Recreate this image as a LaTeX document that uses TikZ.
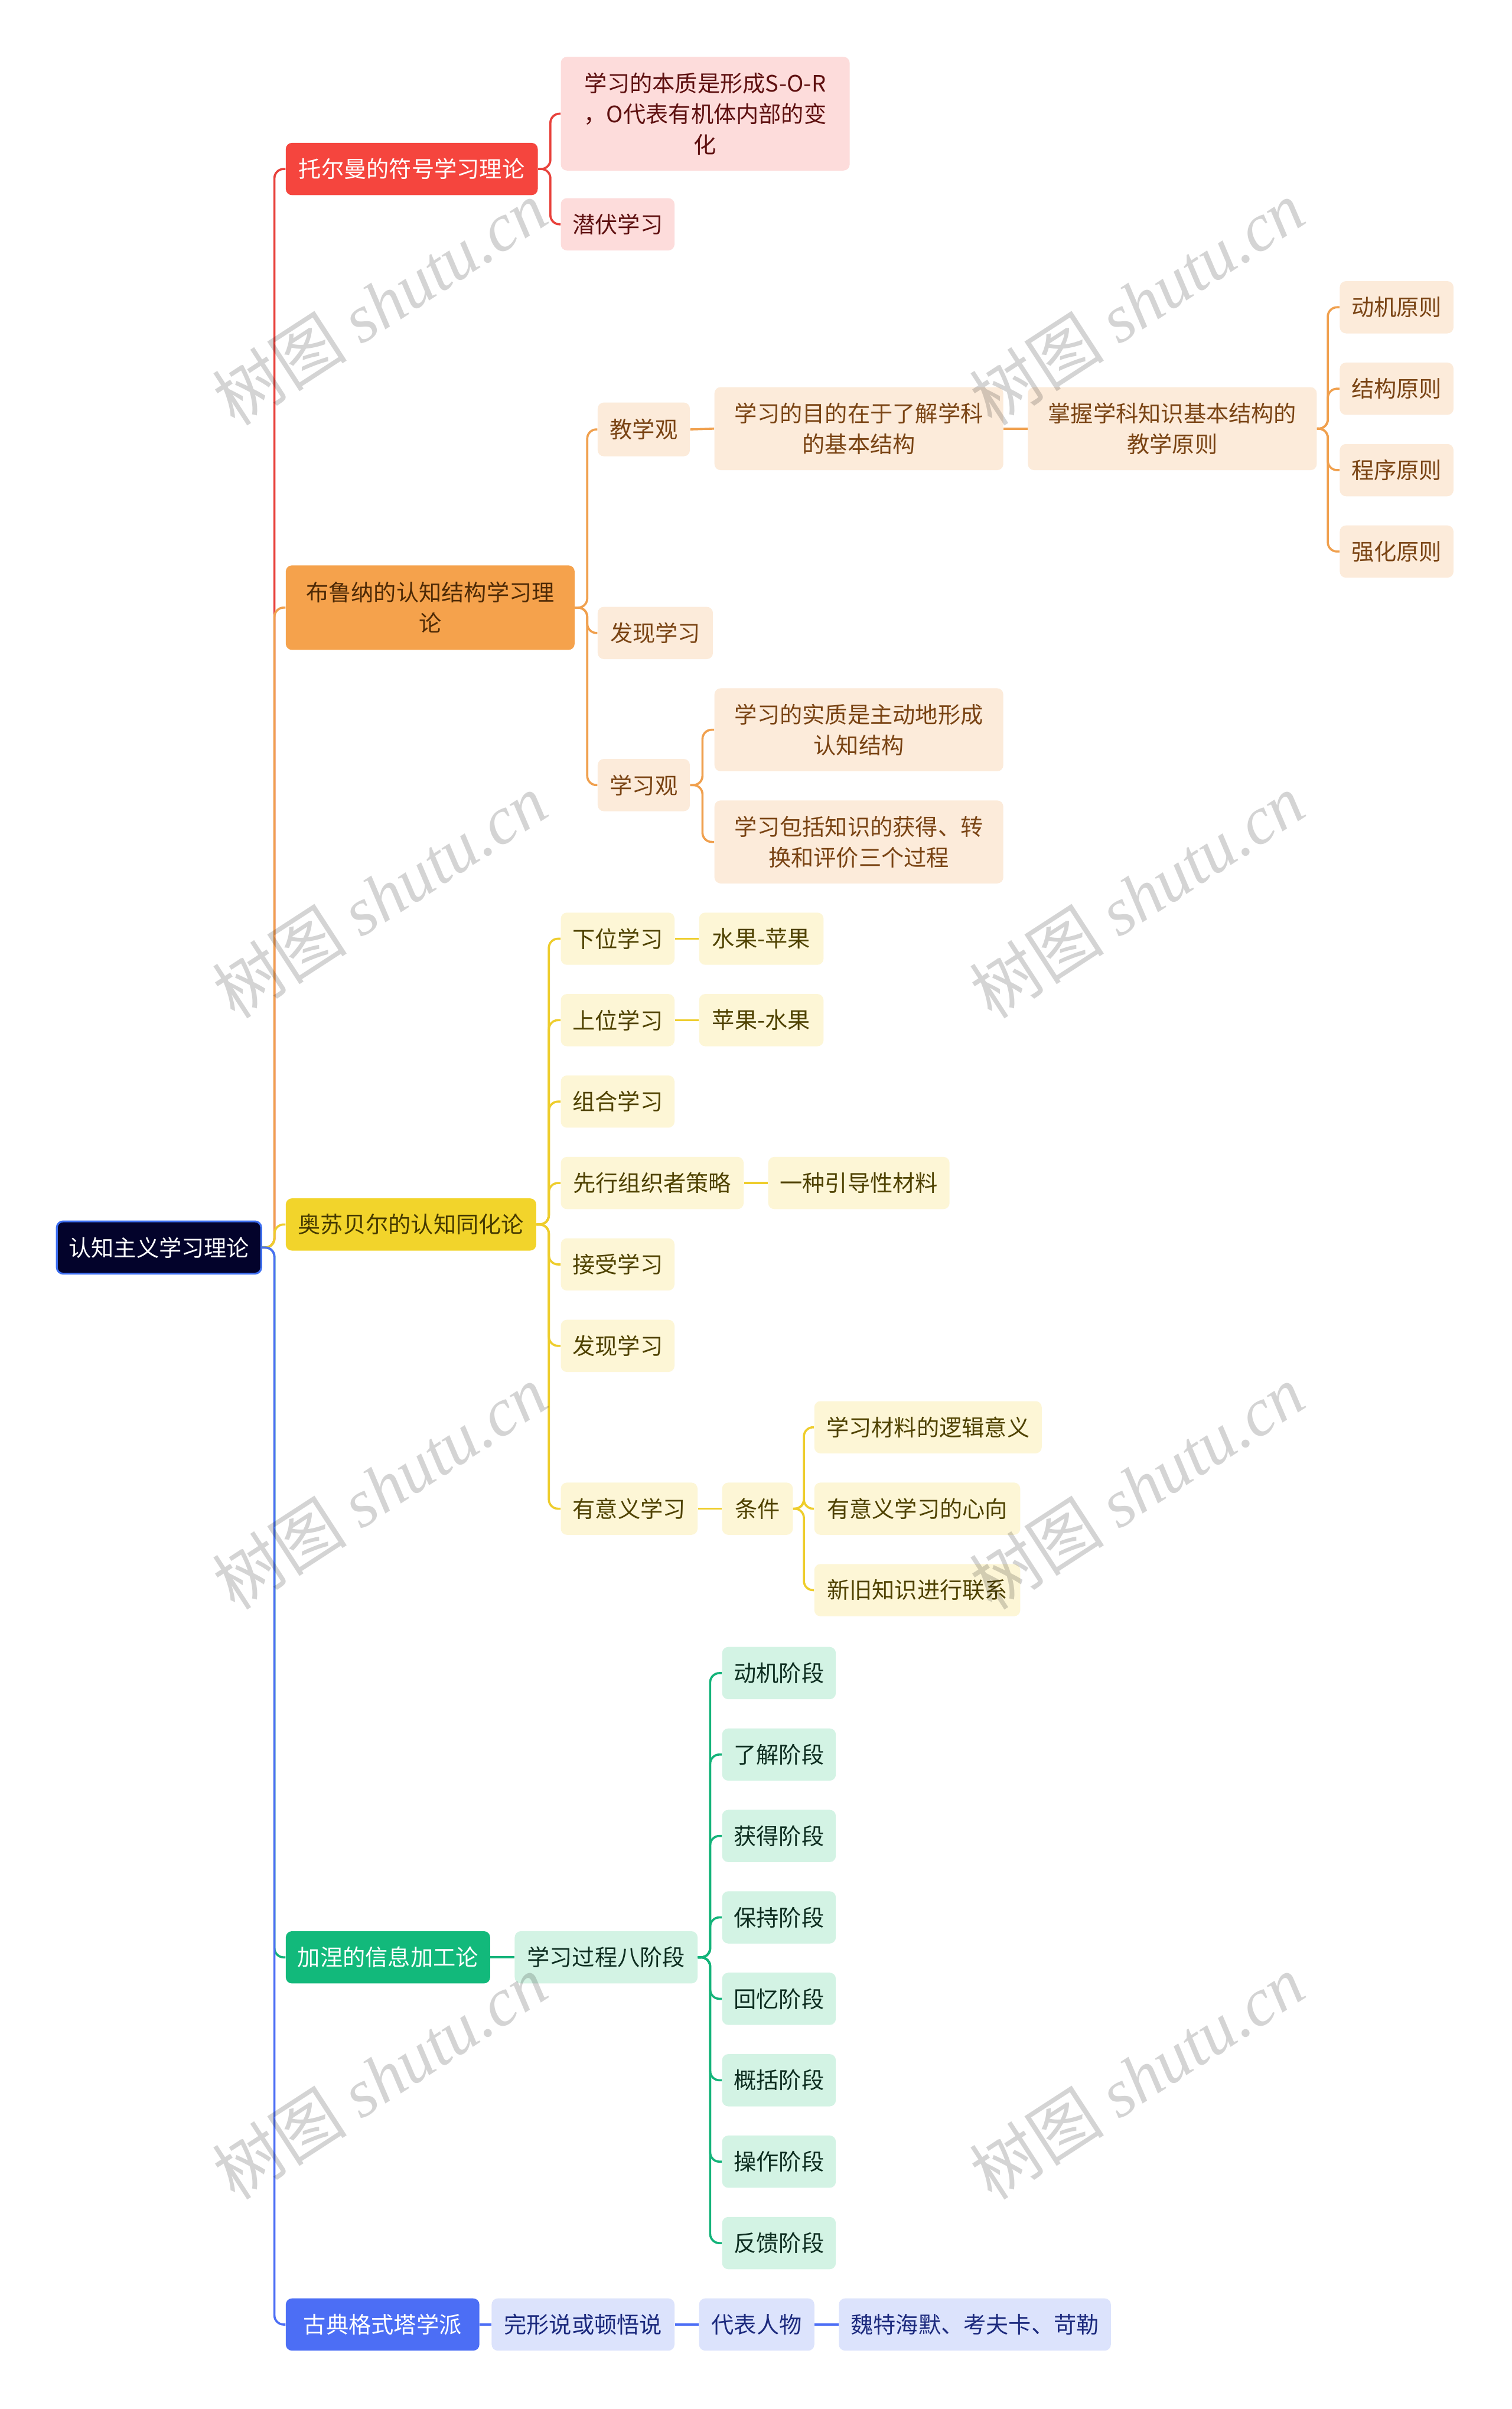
\documentclass[tikz,border=0pt]{standalone}
\usepackage{fontspec}
\setmainfont{Noto Sans CJK SC}
\newfontfamily\wmlatin{Liberation Serif}
\newfontfamily\wmcjk{Noto Sans CJK SC}
\definecolor{rootF}{HTML}{03032B}
\definecolor{rootB}{HTML}{3D6EF0}
\definecolor{rLine}{HTML}{E8413B}
\definecolor{rF}{HTML}{F5453E}
\definecolor{rF2}{HTML}{FDDCDB}
\definecolor{rT}{HTML}{5E1010}
\definecolor{oLine}{HTML}{F0A04E}
\definecolor{oF}{HTML}{F5A24C}
\definecolor{oT1}{HTML}{4E2A06}
\definecolor{oF2}{HTML}{FCEBDA}
\definecolor{oT}{HTML}{7A4414}
\definecolor{yLine}{HTML}{EECD2C}
\definecolor{yF}{HTML}{F2D42B}
\definecolor{yT1}{HTML}{463A00}
\definecolor{yF2}{HTML}{FDF6D6}
\definecolor{yT}{HTML}{4F4200}
\definecolor{gLine}{HTML}{13B379}
\definecolor{gF}{HTML}{12B97B}
\definecolor{gF2}{HTML}{D3F3E4}
\definecolor{gT}{HTML}{0E2E21}
\definecolor{bLine}{HTML}{4C6EF5}
\definecolor{bF}{HTML}{4C6EF5}
\definecolor{bF2}{HTML}{DCE3FC}
\definecolor{bT}{HTML}{1C2A7E}
\begin{document}
\begin{tikzpicture}[x=1pt,y=-1pt,
  box/.style={rounded corners=4pt, inner sep=0pt, align=center,
    font=\fontsize{14.7}{20}\selectfont, minimum height=34pt},
  link/.style={line width=1.4pt, rounded corners=6pt},
  rA/.style={box, fill=rF, text=white},
  rB/.style={box, fill=rF2, text=rT},
  oA/.style={box, fill=oF, text=oT1},
  oB/.style={box, fill=oF2, text=oT},
  yA/.style={box, fill=yF, text=yT1},
  yB/.style={box, fill=yF2, text=yT},
  gA/.style={box, fill=gF, text=white},
  gB/.style={box, fill=gF2, text=gT},
  bA/.style={box, fill=bF, text=white},
  bB/.style={box, fill=bF2, text=bT},
  wm/.style={text=black, opacity=0.17, rotate=33, font=\fontsize{44}{44}\selectfont, inner sep=0pt}
]
\useasboundingbox (0,0) rectangle (984,1568);
\fill[white] (0,0) rectangle (984,1568);

% root
\node[box, fill=rootF, draw=rootB, line width=1.2pt, text=white, minimum width=133pt] (root) at (103.5,812) {认知主义学习理论};

% red branch
\node[rA, minimum width=164pt] (r1) at (268,110) {托尔曼的符号学习理论};
\node[rB, minimum width=188pt, minimum height=74pt] (r2a) at (459,74) {学习的本质是形成S-O-R\\，O代表有机体内部的变\\化};
\node[rB, minimum width=74pt] (r2b) at (402,146) {潜伏学习};

% orange branch
\node[oA, minimum width=188pt, minimum height=55pt] (o1) at (280,395.5) {布鲁纳的认知结构学习理\\论};
\node[oB, minimum width=60pt, minimum height=35pt] (o2a) at (419,279.5) {教学观};
\node[oB, minimum width=75pt] (o2b) at (426.5,412) {发现学习};
\node[oB, minimum width=60pt] (o2c) at (419,511) {学习观};
\node[oB, minimum width=188pt, minimum height=54pt] (o3a) at (559,279) {学习的目的在于了解学科\\的基本结构};
\node[oB, minimum width=188pt, minimum height=54pt] (o4a) at (763,279) {掌握学科知识基本结构的\\教学原则};
\node[oB, minimum width=74pt] (o5a) at (909,200) {动机原则};
\node[oB, minimum width=74pt] (o5b) at (909,253) {结构原则};
\node[oB, minimum width=74pt] (o5c) at (909,306) {程序原则};
\node[oB, minimum width=74pt] (o5d) at (909,359) {强化原则};
\node[oB, minimum width=188pt, minimum height=54pt] (o3b) at (559,475) {学习的实质是主动地形成\\认知结构};
\node[oB, minimum width=188pt, minimum height=54pt] (o3c) at (559,548) {学习包括知识的获得、转\\换和评价三个过程};

% yellow branch
\node[yA, minimum width=163pt] (y1) at (267.5,797) {奥苏贝尔的认知同化论};
\node[yB, minimum width=74pt] (y2a) at (402,611) {下位学习};
\node[yB, minimum width=81pt] (y3a) at (495.5,611) {水果-苹果};
\node[yB, minimum width=74pt] (y2b) at (402,664) {上位学习};
\node[yB, minimum width=81pt] (y3b) at (495.5,664) {苹果-水果};
\node[yB, minimum width=74pt] (y2c) at (402,717) {组合学习};
\node[yB, minimum width=119pt] (y2d) at (424.5,770) {先行组织者策略};
\node[yB, minimum width=118pt] (y3d) at (559,770) {一种引导性材料};
\node[yB, minimum width=74pt] (y2e) at (402,823) {接受学习};
\node[yB, minimum width=74pt] (y2f) at (402,876) {发现学习};
\node[yB, minimum width=89pt] (y2g) at (409.5,982) {有意义学习};
\node[yB, minimum width=46pt] (y3g) at (493,982) {条件};
\node[yB, minimum width=148pt] (y4a) at (604,929) {学习材料的逻辑意义};
\node[yB, minimum width=134pt] (y4b) at (597,982) {有意义学习的心向};
\node[yB, minimum width=134pt] (y4c) at (597,1035) {新旧知识进行联系};

% green branch
\node[gA, minimum width=133pt] (g1) at (252.5,1274) {加涅的信息加工论};
\node[gB, minimum width=119pt] (g2) at (394.5,1274) {学习过程八阶段};
\node[gB, minimum width=74pt] (g3a) at (507,1089) {动机阶段};
\node[gB, minimum width=74pt] (g3b) at (507,1142) {了解阶段};
\node[gB, minimum width=74pt] (g3c) at (507,1195) {获得阶段};
\node[gB, minimum width=74pt] (g3d) at (507,1248) {保持阶段};
\node[gB, minimum width=74pt] (g3e) at (507,1301) {回忆阶段};
\node[gB, minimum width=74pt] (g3f) at (507,1354) {概括阶段};
\node[gB, minimum width=74pt] (g3g) at (507,1407) {操作阶段};
\node[gB, minimum width=74pt] (g3h) at (507,1460) {反馈阶段};

% blue branch
\node[bA, minimum width=126pt] (b1) at (249,1513) {古典格式塔学派};
\node[bB, minimum width=119pt] (b2) at (379.5,1513) {完形说或顿悟说};
\node[bB, minimum width=75pt] (b3) at (492.5,1513) {代表人物};
\node[bB, minimum width=177pt] (b4) at (634.5,1513) {魏特海默、考夫卡、苛勒};

% connectors
\draw[link, rLine] (root.east) -- ++(8,0) |- (r1.west);
\foreach \c in {r2a,r2b} \draw[link, rLine] (r1.east) -- ++(8,0) |- (\c.west);

\draw[link, oLine] (root.east) -- ++(8,0) |- (o1.west);
\foreach \c in {o2a,o2b,o2c} \draw[link, oLine] (o1.east) -- ++(8,0) |- (\c.west);
\draw[link, oLine] (o2a.east) -- (o3a.west);
\draw[link, oLine] (o3a.east) -- (o4a.west);
\foreach \c in {o5a,o5b,o5c,o5d} \draw[link, oLine] (o4a.east) -- ++(7,0) |- (\c.west);
\foreach \c in {o3b,o3c} \draw[link, oLine] (o2c.east) -- ++(8,0) |- (\c.west);

\draw[link, yLine] (root.east) -- ++(8,0) |- (y1.west);
\foreach \c in {y2a,y2b,y2c,y2d,y2e,y2f,y2g} \draw[link, yLine] (y1.east) -- ++(8,0) |- (\c.west);
\draw[link, yLine] (y2a.east) -- (y3a.west);
\draw[link, yLine] (y2b.east) -- (y3b.west);
\draw[link, yLine] (y2d.east) -- (y3d.west);
\draw[link, yLine] (y2g.east) -- (y3g.west);
\foreach \c in {y4a,y4b,y4c} \draw[link, yLine] (y3g.east) -- ++(7,0) |- (\c.west);

\draw[link, gLine] (root.east) -- ++(8,0) |- (g1.west);
\draw[link, gLine] (g1.east) -- (g2.west);
\foreach \c in {g3a,g3b,g3c,g3d,g3e,g3f,g3g,g3h} \draw[link, gLine] (g2.east) -- ++(8,0) |- (\c.west);

\draw[link, bLine] (root.east) -- ++(8,0) |- (b1.west);
\draw[link, bLine] (b1.east) -- (b2.west);
\draw[link, bLine] (b2.east) -- (b3.west);
\draw[link, bLine] (b3.east) -- (b4.west);

% watermarks
\foreach \px/\py [count=\i] in {247/197,740/197,247/583,740/583,247/968,740/968,247/1352,740/1352}
  \node[wm] (wm\i) at (\px,\py) {\wmcjk 树图\ \wmlatin\itshape shutu.cn};
\end{tikzpicture}
\end{document}
